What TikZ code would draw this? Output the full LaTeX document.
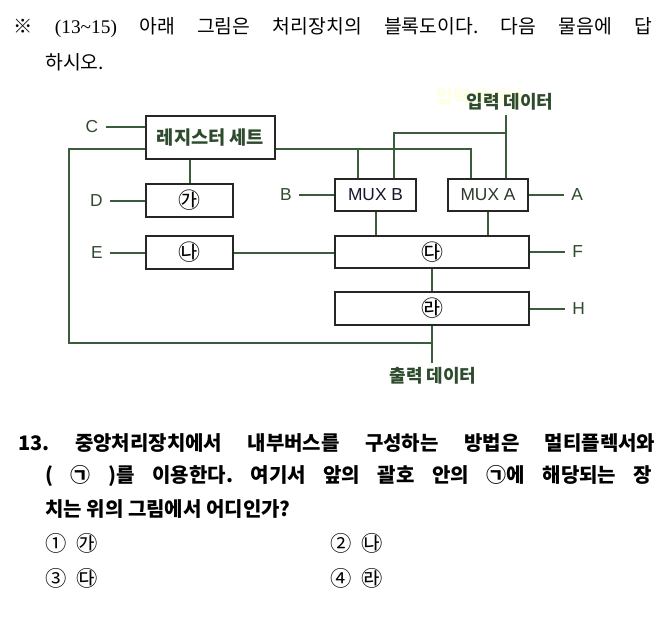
\documentclass[tikz,border=0pt]{standalone}
\usepackage{fontspec}
\setmainfont{Noto Sans CJK KR}
\newfontfamily\latf{Liberation Sans}
\newfontfamily\serf{Liberation Serif}
\usetikzlibrary{positioning,calc}
\definecolor{wirecol}{HTML}{3A5C3A}
\definecolor{labcol}{HTML}{2E4B2E}
\definecolor{boxcol}{HTML}{262626}
\definecolor{muxbcol}{HTML}{15152E}
\definecolor{muxacol}{HTML}{2A3A2A}
\definecolor{ghostcol}{HTML}{FFFFE2}
\frenchspacing

\begin{document}
\begin{tikzpicture}[x=0.75pt, y=-0.75pt,
  node distance=26.25pt,
  blk/.style={draw=boxcol, fill=white, line width=1.7pt, inner sep=0pt,
              font=\bfseries\fontsize{14}{16}\selectfont, text=labcol},
  glyph/.style={font=\fontsize{16.5}{18}\selectfont, text=black},
  mux/.style={font=\latf\fontsize{13}{15}\selectfont},
  lbl/.style={inner sep=5.25pt, text=labcol, font=\latf\fontsize{13}{15}\selectfont},
  ktext/.style={inner sep=3.5pt, text=labcol, font=\bfseries\fontsize{13.5}{16}\selectfont},
  wire/.style={draw=wirecol, line width=1.5pt},
  hdr/.style={anchor=west, inner sep=0pt, font=\fontsize{14.5}{17}\selectfont},
  qline/.style={anchor=west, inner sep=0pt, font=\bfseries\fontsize{15}{17}\selectfont},
  opt/.style={anchor=west, inner sep=0pt, font=\fontsize{16}{18}\selectfont},
]
\path[use as bounding box, fill=white] (0,0) rectangle (658,618);

% header
\node[hdr] (head1) at (13,28) {\makebox[479.25pt][s]{※ {\serf(13\textasciitilde15)} 아래 그림은 처리장치의 블록도이다. 다음 물음에 답}};
\node[hdr] (head2) at (45,62) {하시오.};

% blocks
\node[blk, minimum width=96.75pt, minimum height=32.25pt] (regset) at (210.5,137.5) {레지스터 세트};
\node[blk, glyph, minimum width=65.25pt, minimum height=24.75pt] (ga) at (189.5,200.5) {㉮};
\node[blk, glyph, minimum width=65.25pt, minimum height=24.75pt] (na) at (189.5,252.5) {㉯};
\node[blk, mux, text=muxbcol, minimum width=60.75pt, minimum height=24pt] (muxb) at (375.5,195) {MUX B};
\node[blk, mux, text=muxacol, minimum width=60pt, minimum height=24pt] (muxa) at (488,195) {MUX A};
\node[blk, glyph, minimum width=145.5pt, minimum height=24pt] (da) at (432,252) {㉰};
\node[blk, glyph, minimum width=145.5pt, minimum height=24.75pt] (ra) at (432,308.5) {㉱};

% side labels
\node[lbl] (lC) at (92,127) {C};
\node[lbl, left=of ga] (lD) {D};
\node[lbl, left=of na] (lE) {E};
\node[lbl, left=of muxb] (lB) {B};
\node[lbl, right=of muxa] (lA) {A};
\node[lbl, right=of da] (lF) {F};
\node[lbl, right=of ra] (lH) {H};

\node[ktext, text=ghostcol] (ghost) at (480,97) {입력 데이터};
\node[ktext] (indata) at (510,102) {입력 데이터};
\node[ktext] (outdata) at (433,376) {출력 데이터};

% junctions
\coordinate (rbus) at (0,149);
\coordinate (lbus) at (69,343);
\coordinate (inbus) at (506,133);
\coordinate (bin1) at ($(muxb.north)+(-17.5,0)$);
\coordinate (bin2) at ($(muxb.north)+(18.5,0)$);
\coordinate (ain1) at ($(muxa.north)+(-17,0)$);
\coordinate (ain2) at ($(muxa.north)+(18,0)$);

% wires
\draw[wire] (lC) -- (lC -| regset.west);
\foreach \a/\b in {lD/ga,lE/na,lB/muxb,lA/muxa,lF/da,lH/ra} \draw[wire] (\a) -- (\b);
\draw[wire] (regset.west |- rbus) -| (lbus) -- (lbus -| ra.south);
\draw[wire] (regset.east |- rbus) -| (ain1);
\draw[wire] (bin1) -- (bin1 |- rbus);
\draw[wire] (ain2 |- indata.south) -- (ain2);
\draw[wire] (bin2) |- (inbus);
\draw[wire] (ga.north) -- (ga.north |- regset.south);
\draw[wire] (na) -- (na -| da.west);
\draw[wire] (muxb.south) -- (muxb.south |- da.north);
\draw[wire] (muxa.south) -- (muxa.south |- da.north);
\draw[wire] (da.south) -- (ra.north);
\draw[wire] (ra.south) -- (ra.south |- outdata.north);

% question
\node[qline] (q1) at (18,443) {\makebox[477.75pt][s]{13. 중앙처리장치에서 내부버스를 구성하는 방법은 멀티플렉서와}};
\node[qline] (q2) at (45,476) {\makebox[455.25pt][s]{( ㉠ )를 이용한다. 여기서 앞의 괄호 안의 ㉠에 해당되는 장}};
\node[qline] (q3) at (45,509) {치는 위의 그림에서 어디인가?};
\foreach \n/\px/\py/\s in {o1/45/543/①\hspace{0.45em}㉮, o2/330/543/②\hspace{0.45em}㉯,
                           o3/45/578/③\hspace{0.45em}㉰, o4/330/578/④\hspace{0.45em}㉱}
  \node[opt] (\n) at (\px,\py) {\s};
\end{tikzpicture}
\end{document}
